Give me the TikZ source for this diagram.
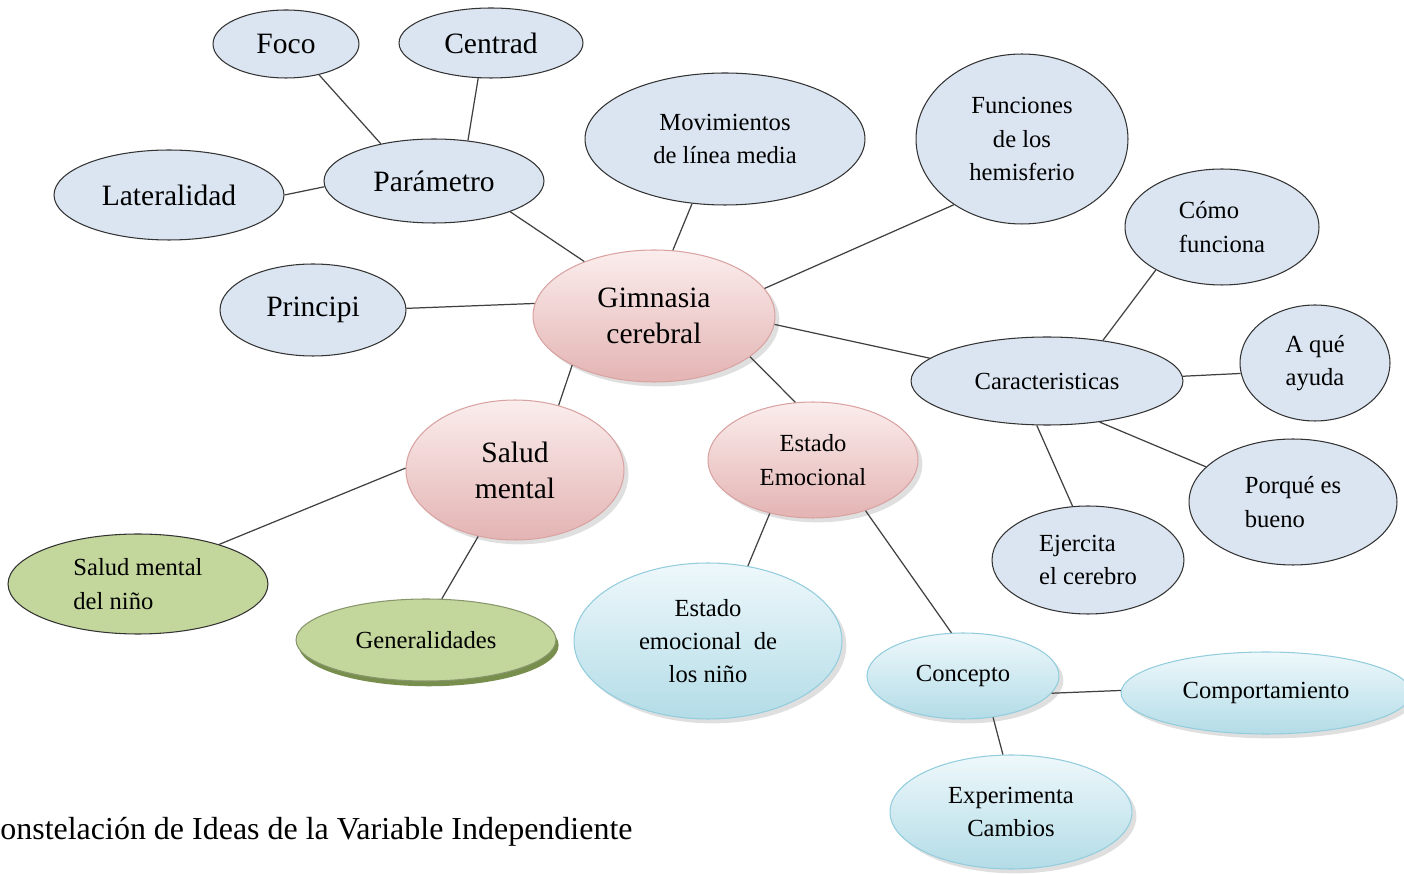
\documentclass[tikz,border=0pt]{standalone}
\usepackage{fontspec}
\setmainfont{Liberation Serif}
\usepackage{tikz}
\usetikzlibrary{shapes.geometric, shadows}

\definecolor{ideafill}{HTML}{DBE5F1}
\definecolor{coretop}{HTML}{FBEDED}
\definecolor{corebot}{HTML}{E3B4B3}
\definecolor{coreline}{HTML}{D9A3A2}
\definecolor{skytop}{HTML}{EEF8FB}
\definecolor{skybot}{HTML}{B3DCE7}
\definecolor{skyline}{HTML}{93CDDD}
\definecolor{leaffill}{HTML}{C3D69B}
\definecolor{leafdark}{HTML}{5F7A2E}

\begin{document}
\begin{tikzpicture}[x=0.02cm, y=-0.02cm,
		bigtext/.style={font=\fontsize{16.8}{20.5}\selectfont},
		smalltext/.style={font=\fontsize{14}{19}\selectfont},
		idea/.style={ellipse, inner sep=0pt, align=center, draw=black!80, line width=0.6pt, fill=ideafill},
		core/.style={ellipse, inner sep=0pt, align=center, draw=coreline, line width=0.6pt,
			top color=coretop, bottom color=corebot,
			drop shadow={shadow xshift=2.5pt, shadow yshift=-2.5pt, opacity=0.25}},
		sky/.style={ellipse, inner sep=0pt, align=center, draw=skyline, line width=0.6pt,
			top color=skytop, bottom color=skybot,
			drop shadow={shadow xshift=2.5pt, shadow yshift=-2.5pt, opacity=0.25}},
		leaf/.style={ellipse, inner sep=0pt, align=center, fill=leaffill},
		link/.style={draw=black!75, line width=0.7pt}]

	\useasboundingbox (0,0) rectangle (1404,874);

	\node[idea, bigtext, minimum width=2.92cm, minimum height=1.36cm] (foco) at (286,44) {Foco};
	\node[idea, bigtext, minimum width=3.68cm, minimum height=1.40cm] (centrad) at (491,43) {Centrad};
	\node[idea, bigtext, minimum width=4.40cm, minimum height=1.68cm] (parametro) at (434,181) {Parámetro};
	\node[idea, bigtext, minimum width=4.60cm, minimum height=1.80cm] (lateralidad) at (169,195) {Lateralidad};
	\node[idea, bigtext, minimum width=3.72cm, minimum height=1.84cm] (principi) at (313,310) {Principi};
	\node[idea, smalltext, minimum width=5.60cm, minimum height=2.64cm] (movimientos) at (725,139) {Movimientos\\de línea media};
	\node[idea, smalltext, minimum width=4.24cm, minimum height=3.40cm] (funciones) at (1022,139) {Funciones\\de los\\hemisferio};
	\node[idea, smalltext, align=left, minimum width=3.88cm, minimum height=2.32cm] (como) at (1222,227) {Cómo\\funciona};
	\node[idea, smalltext, minimum width=5.44cm, minimum height=1.76cm] (caracteristicas) at (1047,381) {Caracteristicas};
	\node[idea, smalltext, minimum width=3.00cm, minimum height=2.32cm] (aque) at (1315,363) {A qué\\ayuda};
	\node[idea, smalltext, align=left, minimum width=4.16cm, minimum height=2.52cm] (porque) at (1293,502) {Porqué es\\bueno};
	\node[idea, smalltext, align=left, minimum width=3.84cm, minimum height=2.16cm] (ejercita) at (1088,560) {Ejercita\\el cerebro};

	\node[core, bigtext, minimum width=4.84cm, minimum height=2.64cm] (gimnasia) at (654,316) {Gimnasia\\cerebral};
	\node[core, bigtext, minimum width=4.36cm, minimum height=2.80cm] (salud) at (515,470) {Salud\\mental};
	\node[core, smalltext, minimum width=4.20cm, minimum height=2.32cm] (estado) at (813,460) {Estado\\Emocional};

	\node[leaf, smalltext, align=left, draw=black!80, line width=0.6pt, minimum width=5.20cm, minimum height=2.00cm] (saludnino) at (138,584) {Salud mental\\del niño};
	\node[leaf, smalltext, draw=leaffill!70!black, line width=0.6pt,
		drop shadow={shadow xshift=1.5pt, shadow yshift=-3pt, fill=leafdark, opacity=0.85},
		minimum width=5.20cm, minimum height=1.64cm] (generalidades) at (426,640) {Generalidades};

	\node[sky, smalltext, minimum width=5.36cm, minimum height=3.12cm] (estadonino) at (708,641) {Estado\\emocional~ de\\los niño};
	\node[sky, smalltext, minimum width=3.84cm, minimum height=1.72cm] (concepto) at (963,676) {Concepto};
	\node[sky, smalltext, minimum width=5.80cm, minimum height=1.64cm] (comportamiento) at (1266,693) {Comportamiento};
	\node[sky, smalltext, minimum width=4.84cm, minimum height=2.28cm] (experimenta) at (1011,812) {Experimenta\\Cambios};

	\node[anchor=west, inner sep=0pt, font=\fontsize{18.2}{22}\selectfont] (titulo) at (0,832) {onstelación de Ideas de la Variable Independiente};

	\draw[link] (foco.-43) -- (parametro.145);
	\draw[link] (centrad.250) -- (parametro.50);
	\draw[link] (lateralidad.0) -- (parametro.183);
	\draw[link] (parametro.-22) -- (gimnasia.142);
	\draw[link] (principi.1) -- (gimnasia.174);
	\draw[link] (movimientos.243) -- (gimnasia.74);
	\draw[link] (funciones.224) -- (gimnasia.14);
	\draw[link] (gimnasia.-4) -- (caracteristicas.169);
	\draw[link] (gimnasia.211) -- (salud.56);
	\draw[link] (gimnasia.-23) -- (estado.107);

	\draw[link] (caracteristicas.36) -- (como.213);
	\draw[link] (caracteristicas.2.5) -- (aque.188.6);
	\draw[link] (caracteristicas.-38) -- (porque.158);
	\draw[link] (caracteristicas.257) -- (ejercita.106);

	\draw[link] (salud.179.5) -- (saludnino.26);
	\draw[link] (salud.241) -- (generalidades.69);
	\draw[link] (estado.231) -- (estadonino.62);
	\draw[link] (estado.-44) -- (concepto.105);
	\draw[link] (concepto.-11) -- (comportamiento.179);
	\draw[link] (concepto.-54) -- (experimenta.98);

\end{tikzpicture}
\end{document}
